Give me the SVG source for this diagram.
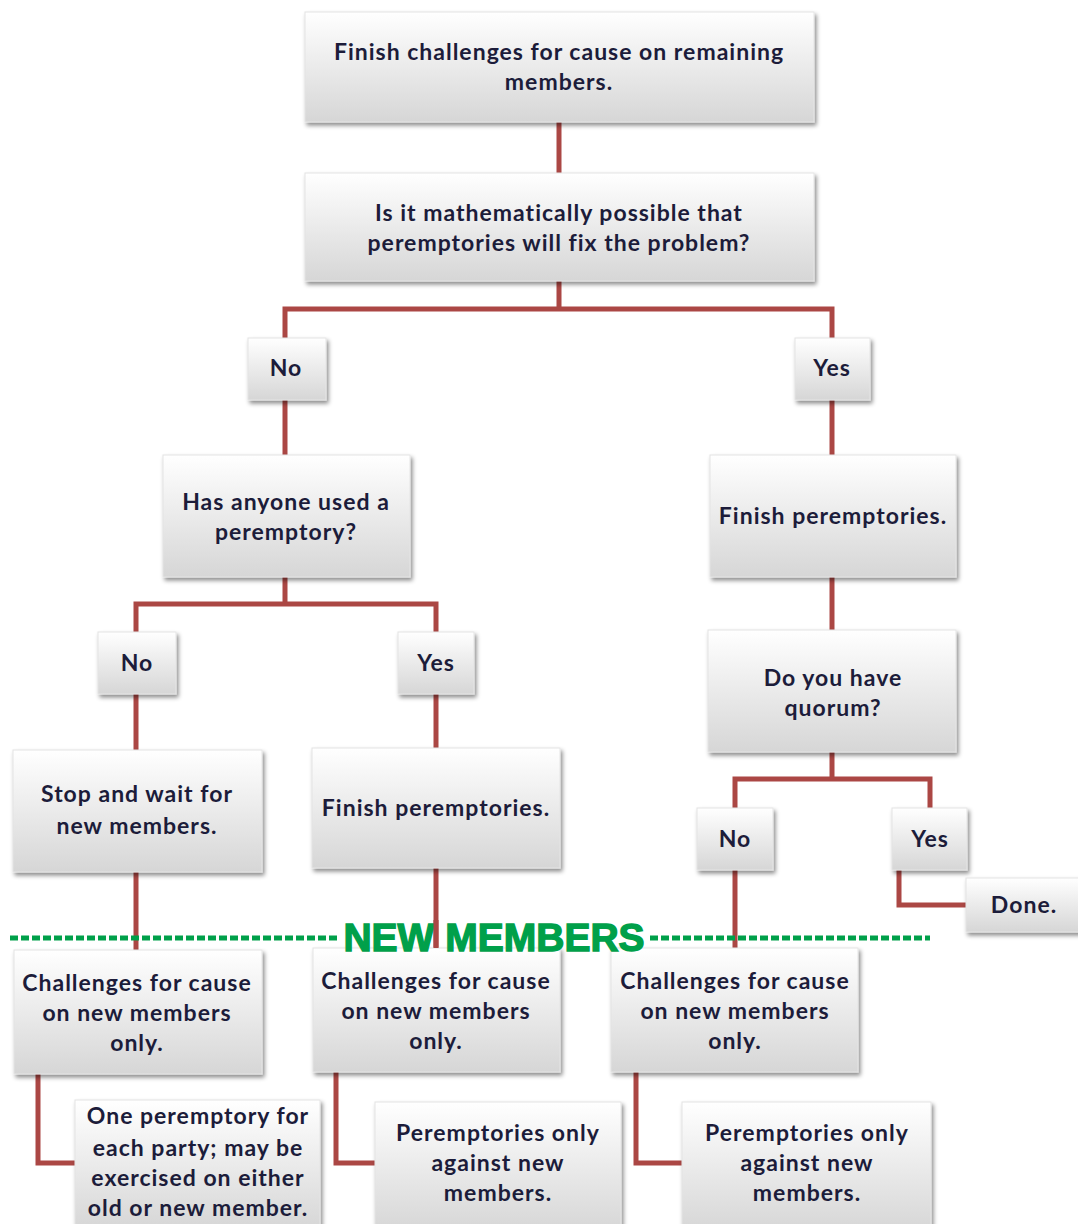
<svg xmlns="http://www.w3.org/2000/svg" width="1078" height="1224" viewBox="0 0 1078 1224">
<defs>
<linearGradient id="g" x1="0" y1="0" x2="0" y2="1">
<stop offset="0" stop-color="#ffffff"/>
<stop offset="1" stop-color="#d6d6d6"/>
</linearGradient>
<filter id="sh" x="-10%" y="-10%" width="130%" height="140%">
<feDropShadow dx="2" dy="3" stdDeviation="2" flood-color="#000" flood-opacity="0.45"/>
</filter>
</defs>
<style>
.b{fill:url(#g);filter:url(#sh);stroke:#e4e4e4;stroke-width:1}
.t{font-family:Lato,"Open Sans",sans-serif;font-weight:bold;font-size:23px;letter-spacing:1px;fill:#1c1c3a;text-anchor:middle}
.c{fill:none;stroke:#ab4744;stroke-width:5}
.d{stroke:#00a04a;stroke-width:5;stroke-dasharray:8 3}
.nm{font-family:"Liberation Sans",Arial,sans-serif;font-weight:bold;font-size:39px;fill:#00a04a;stroke:#00a04a;stroke-width:1.4px;text-anchor:middle}
</style>
<rect width="1078" height="1224" fill="#ffffff"/>
<g id="connectors">
<path class="c" d="M559 122V173"/>
<path class="c" d="M559 281V309M285 338V309H832V338"/>
<path class="c" d="M285 400V455"/>
<path class="c" d="M832 400V455"/>
<path class="c" d="M285 577V604M136 632V604H436V632"/>
<path class="c" d="M136 694V750"/>
<path class="c" d="M436 694V748"/>
<path class="c" d="M832 577V630"/>
<path class="c" d="M832 752V779M735 808V779H930V808"/>
<path class="c" d="M899 870V905H966"/>
<path class="c" d="M136 872V950"/>
<path class="c" d="M436 868V948"/>
<path class="c" d="M735 870V948"/>
<path class="c" d="M38 1074V1163H75"/>
<path class="c" d="M336 1072V1163H375"/>
<path class="c" d="M636 1072V1163H682"/>
</g>
<g id="n1"><rect class="b" x="305" y="12" width="509" height="110"/>
<text class="t" x="559" y="60">Finish challenges for cause on remaining</text>
<text class="t" x="559" y="90">members.</text></g>
<g id="n2"><rect class="b" x="305" y="173" width="509" height="108"/>
<text class="t" x="559" y="221">Is it mathematically possible that</text>
<text class="t" x="559" y="251">peremptories will fix the problem?</text></g>
<g id="n3"><rect class="b" x="248" y="338" width="78" height="62"/>
<text class="t" x="286" y="376">No</text></g>
<g id="n4"><rect class="b" x="795" y="338" width="75" height="62"/>
<text class="t" x="832" y="376">Yes</text></g>
<g id="n5"><rect class="b" x="163" y="455" width="247" height="122"/>
<text class="t" x="286" y="510">Has anyone used a</text>
<text class="t" x="286" y="540">peremptory?</text></g>
<g id="n6"><rect class="b" x="710" y="455" width="246" height="122"/>
<text class="t" x="833" y="524">Finish peremptories.</text></g>
<g id="n7"><rect class="b" x="98" y="632" width="78" height="62"/>
<text class="t" x="137" y="671">No</text></g>
<g id="n8"><rect class="b" x="398" y="632" width="76" height="62"/>
<text class="t" x="436" y="671">Yes</text></g>
<g id="n9"><rect class="b" x="13" y="750" width="249" height="122"/>
<text class="t" x="137" y="802">Stop and wait for</text>
<text class="t" x="137" y="834">new members.</text></g>
<g id="n10"><rect class="b" x="312" y="748" width="248" height="120"/>
<text class="t" x="436" y="816">Finish peremptories.</text></g>
<g id="n11"><rect class="b" x="708" y="630" width="248" height="122"/>
<text class="t" x="833" y="686">Do you have</text>
<text class="t" x="833" y="716">quorum?</text></g>
<g id="n12"><rect class="b" x="697" y="808" width="76" height="62"/>
<text class="t" x="735" y="847">No</text></g>
<g id="n13"><rect class="b" x="892" y="808" width="75" height="62"/>
<text class="t" x="930" y="847">Yes</text></g>
<g id="n14"><rect class="b" x="966" y="878" width="120" height="54"/>
<text class="t" x="1024" y="913">Done.</text></g>
<g id="n15"><rect class="b" x="14" y="950" width="248" height="124"/>
<text class="t" x="137" y="991">Challenges for cause</text>
<text class="t" x="137" y="1021">on new members</text>
<text class="t" x="137" y="1051">only.</text></g>
<g id="n16"><rect class="b" x="313" y="948" width="247" height="124"/>
<text class="t" x="436" y="989">Challenges for cause</text>
<text class="t" x="436" y="1019">on new members</text>
<text class="t" x="436" y="1049">only.</text></g>
<g id="n17"><rect class="b" x="611" y="948" width="247" height="124"/>
<text class="t" x="735" y="989">Challenges for cause</text>
<text class="t" x="735" y="1019">on new members</text>
<text class="t" x="735" y="1049">only.</text></g>
<g id="n18"><rect class="b" x="75" y="1100" width="245" height="130"/>
<text class="t" x="198" y="1124">One peremptory for</text>
<text class="t" x="198" y="1156">each party; may be</text>
<text class="t" x="198" y="1186">exercised on either</text>
<text class="t" x="198" y="1216">old or new member.</text></g>
<g id="n19"><rect class="b" x="375" y="1102" width="246" height="130"/>
<text class="t" x="498" y="1141">Peremptories only</text>
<text class="t" x="498" y="1171">against new</text>
<text class="t" x="498" y="1201">members.</text></g>
<g id="n20"><rect class="b" x="682" y="1102" width="249" height="130"/>
<text class="t" x="807" y="1141">Peremptories only</text>
<text class="t" x="807" y="1171">against new</text>
<text class="t" x="807" y="1201">members.</text></g>
<g id="new-members">
<line class="d" x1="10" y1="938" x2="338" y2="938"/>
<line class="d" x1="650" y1="938" x2="930" y2="938"/>
<text class="nm" x="494" y="951">NEW MEMBERS</text>
<path class="c" d="M436 920V948" stroke-width="4"/>
</g>
</svg>
